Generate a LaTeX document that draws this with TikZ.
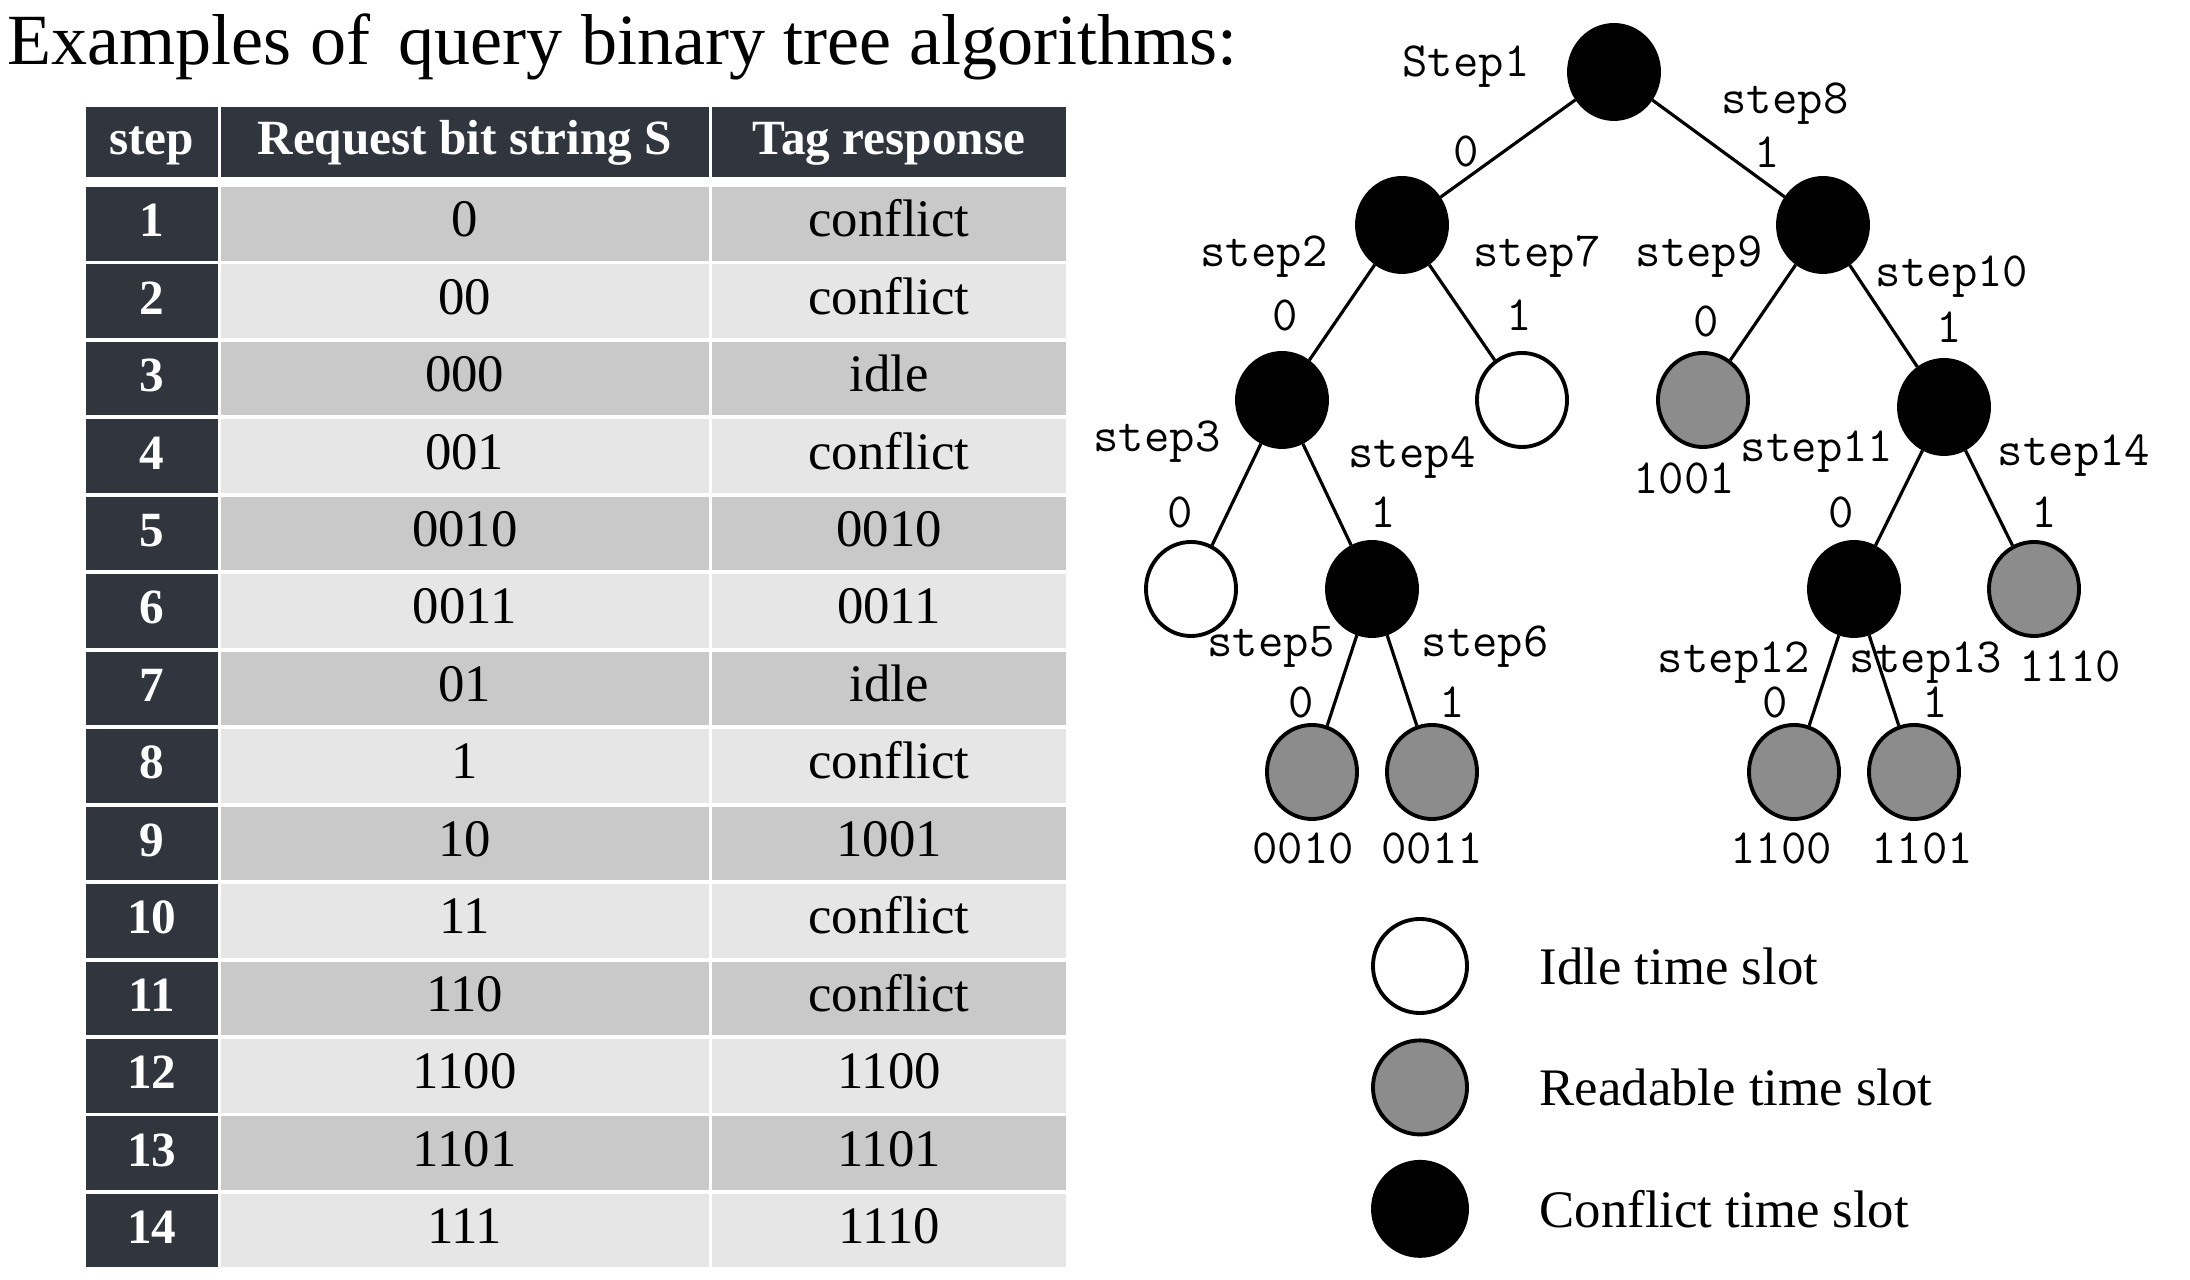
\documentclass[tikz,border=0pt]{standalone}
\usepackage{fontspec}
\setmainfont{Liberation Serif}
\usepackage{xcolor}
\usepackage{tikz}
\usetikzlibrary{shapes.geometric, positioning, calc}

\definecolor{headdark}{HTML}{31353E}
\definecolor{rowdark}{HTML}{C9C9C9}
\definecolor{rowlight}{HTML}{E6E6E6}
\definecolor{slotgray}{HTML}{8C8C8C}

\begin{document}
\begin{tikzpicture}[
    x=0.01cm, y=-0.01cm,
    cell/.style={rectangle, inner sep=0pt, outer sep=0pt, minimum height=0.735cm, text height=1.6ex, text depth=0pt, font=\fontsize{15}{15}\selectfont},
    headcell/.style={cell, fill=headdark, text=white, font=\bfseries\fontsize{14}{14}\selectfont},
    colA/.style={minimum width=1.315cm},
    colB/.style={minimum width=4.875cm},
    colC/.style={minimum width=3.54cm},
    slot/.style={ellipse, draw, line width=1.1pt, minimum width=0.9cm, minimum height=0.94cm, inner sep=0pt},
    idle/.style={slot, fill=white},
    readable/.style={slot, fill=slotgray},
    conflict/.style={slot, fill=black},
    branch/.style={line width=0.9pt},
    steplbl/.style={inner sep=0pt, font=\ttfamily\fontsize{14}{14}\selectfont},
    legendtxt/.style={inner sep=0pt, font=\fontsize{15}{15}\selectfont}
]
\useasboundingbox (0,0) rectangle (2190,1280);

% Title
\node[anchor=base west, inner sep=0pt, font=\fontsize{20.5}{20.5}\selectfont] (title) at (7,65) {Examples of\hspace{.15em} query binary tree algorithms:};

% Table
\node[headcell, colA, minimum height=0.70cm] (hstep) at (151.75,142) {step};
\node[headcell, colB, minimum height=0.70cm] (hreq) at (464.75,142) {Request bit string S};
\node[headcell, colC, minimum height=0.70cm] (hresp) at (889,142) {Tag response};
\foreach \i/\req/\resp in {1/0/conflict, 2/00/conflict, 3/000/idle, 4/001/conflict, 5/0010/0010, 6/0011/0011, 7/01/idle, 8/1/conflict, 9/10/1001, 10/11/conflict, 11/110/conflict, 12/1100/1100, 13/1101/1101, 14/111/1110} {
    \pgfmathsetmacro{\ry}{223.75+(\i-1)*77.46}
    \ifodd\i\def\rowcol{rowdark}\else\def\rowcol{rowlight}\fi
    \node[headcell, colA] (step\i) at (151.75,\ry) {\i};
    \node[cell, colB, fill=\rowcol] (req\i) at (464.75,\ry) {\req};
    \node[cell, colC, fill=\rowcol] (resp\i) at (889,\ry) {\resp};
}

% Tree
\node[conflict] (r) at (1614,72) {};
\node[conflict] (b0) at (1402,225) {};
\node[conflict] (b1) at (1823,225) {};
\node[conflict] (b00) at (1282,400) {};
\node[idle] (b01) at (1522,400) {};
\node[readable] (b10) at (1703,400) {};
\node[conflict] (b11) at (1944,407) {};
\node[idle] (b000) at (1191,589) {};
\node[conflict] (b001) at (1372,589) {};
\node[conflict] (b110) at (1854,589) {};
\node[readable] (b111) at (2034,589) {};
\node[readable] (b0010) at (1312,772) {};
\node[readable] (b0011) at (1432,772) {};
\node[readable] (b1100) at (1794,772) {};
\node[readable] (b1101) at (1914,772) {};

\draw[branch] (r) -- (b0);
\draw[branch] (r) -- (b1);
\draw[branch] (b0) -- (b00);
\draw[branch] (b0) -- (b01);
\draw[branch] (b1) -- (b10);
\draw[branch] (b1) -- (b11);
\draw[branch] (b00) -- (b000);
\draw[branch] (b00) -- (b001);
\draw[branch] (b001) -- (b0010);
\draw[branch] (b001) -- (b0011);
\draw[branch] (b11) -- (b110);
\draw[branch] (b11) -- (b111);
\draw[branch] (b110) -- (b1100);
\draw[branch] (b110) -- (b1101);

% Step labels
\node[steplbl] (st1) at (1466,67) {Step1};
\node[steplbl] (st8) at (1785,104) {step8};
\node[steplbl] (st2) at (1264,257) {step2};
\node[steplbl] (st7) at (1537,257) {step7};
\node[steplbl] (st9) at (1699,257) {step9};
\node[steplbl] (st10) at (1952,277) {step10};
\node[steplbl] (st3) at (1157,442) {step3};
\node[steplbl] (st4) at (1412,458) {step4};
\node[steplbl] (st11) at (1817,452) {step11};
\node[steplbl] (st14) at (2074,456) {step14};
\node[steplbl] (st5) at (1271,647) {step5};
\node[steplbl] (st6) at (1485,647) {step6};
\node[steplbl] (st12) at (1734,663) {step12};
\node[steplbl] (st13) at (1926,663) {step13};

% Bit labels
\node[steplbl] (k0) at (1466,151) {0};
\node[steplbl] (k1) at (1767,152) {1};
\node[steplbl] (k00) at (1285,315) {0};
\node[steplbl] (k01) at (1519,315) {1};
\node[steplbl] (k10) at (1706,321) {0};
\node[steplbl] (k11) at (1949,327) {1};
\node[steplbl] (k000) at (1180,512) {0};
\node[steplbl] (k001) at (1383,512) {1};
\node[steplbl] (k110) at (1841,512) {0};
\node[steplbl] (k111) at (2044,512) {1};
\node[steplbl] (k0010) at (1301,702) {0};
\node[steplbl] (k0011) at (1452,702) {1};
\node[steplbl] (k1100) at (1775,702) {0};
\node[steplbl] (k1101) at (1935,702) {1};

% Tag values
\node[steplbl] (v1001) at (1684,478) {1001};
\node[steplbl] (v1110) at (2070,666) {1110};
\node[steplbl] (v0010) at (1303,848) {0010};
\node[steplbl] (v0011) at (1432,848) {0011};
\node[steplbl] (v1100) at (1781,848) {1100};
\node[steplbl] (v1101) at (1922,848) {1101};

% Legend
\node[idle, minimum width=0.94cm] (legidle) at (1420,966) {};
\node[readable, minimum width=0.94cm, below=0.235cm of legidle] (legread) {};
\node[conflict, minimum width=0.94cm, below=0.235cm of legread] (legconf) {};
\node[legendtxt, right=0.70cm of legidle] (txtidle) {Idle time slot};
\node[legendtxt, right=0.70cm of legread] (txtread) {Readable time slot};
\node[legendtxt, right=0.70cm of legconf] (txtconf) {Conflict time slot};

\end{tikzpicture}
\end{document}
